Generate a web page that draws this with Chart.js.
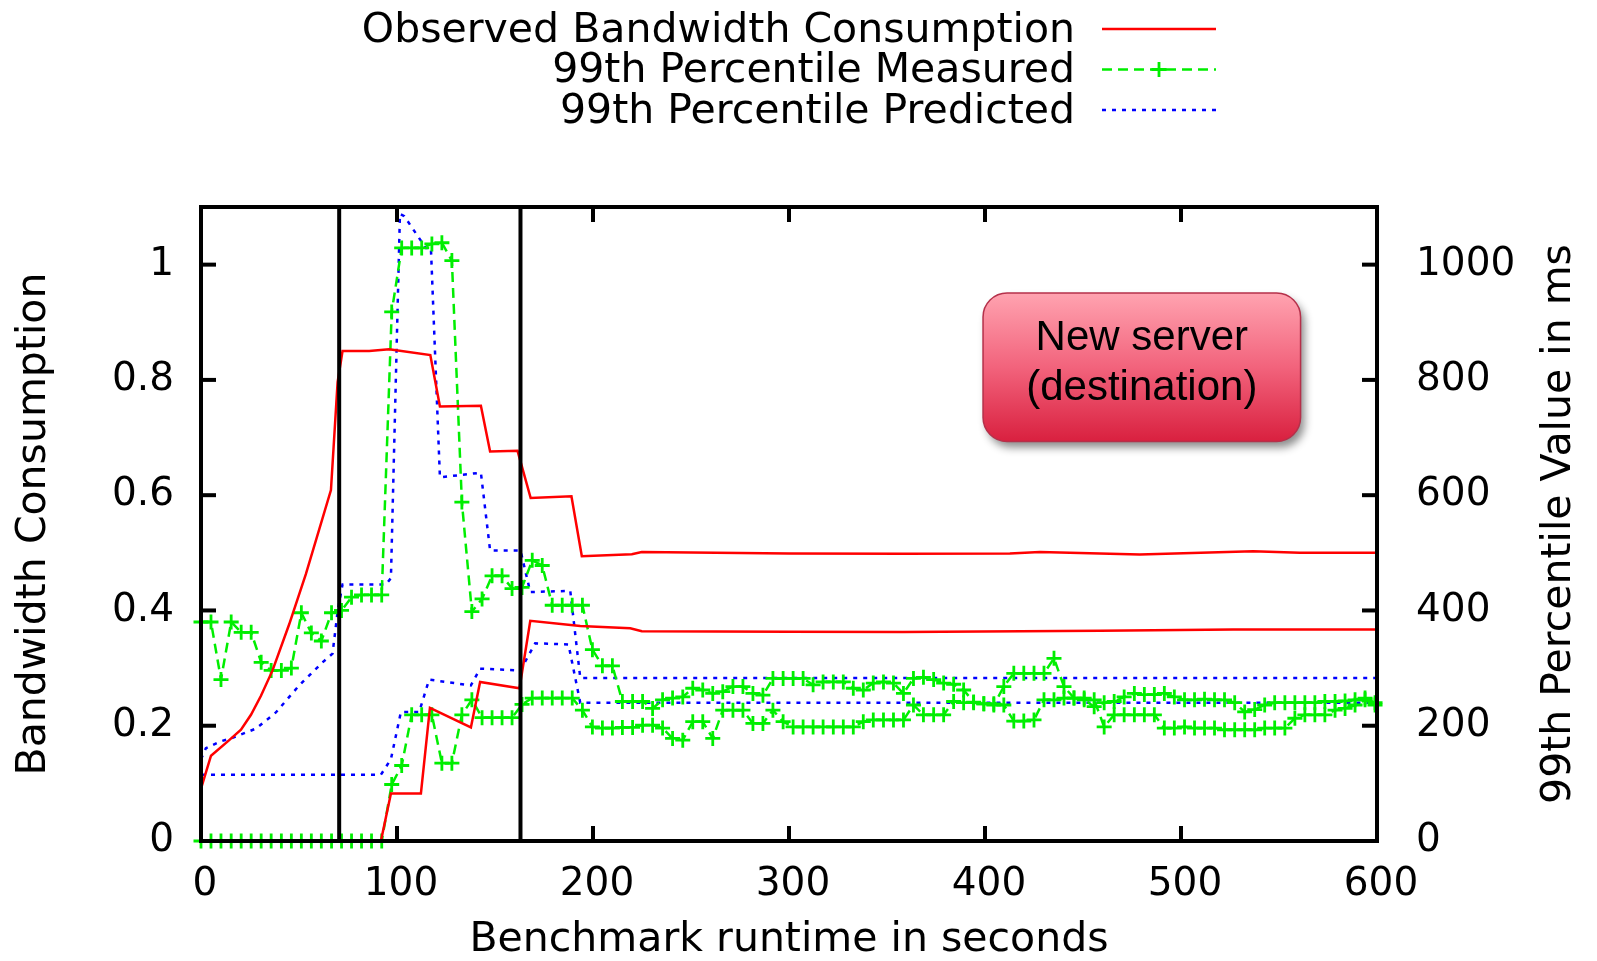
<!DOCTYPE html>
<html>
<head>
<meta charset="utf-8">
<title>Bandwidth consumption during migration</title>
<script src="https://cdn.jsdelivr.net/npm/chart.js@4.4.1/dist/chart.umd.min.js"></script>
<style>
  html, body { margin: 0; padding: 0; background: #fff; }
</style>
</head>
<body>
<canvas id="myChart" width="1597" height="961"></canvas>
<script>
// series names (legend order)
const seriesNames = ['Observed Bandwidth Consumption', '99th Percentile Measured', '99th Percentile Predicted']

// tick labels
const xTicks = ['0', '100', '200', '300', '400', '500', '600']
const leftTicks = ['0', '0.2', '0.4', '0.6', '0.8', '1']
const rightTicks = ['0', '200', '400', '600', '800', '1000']

// migration phase boundaries (seconds)
const phaseMarks = [70.5, 163]

// observed bandwidth - source server (fraction of link)
const srcBwTime = [0, 5.1, 14.4, 20.4, 25.5, 30.6, 36.5, 45, 53.5, 66.3, 69.7, 72.2, 85.8, 96, 117, 121.9, 142.8, 147.5, 161.5, 168.2, 189, 194.3, 219.8, 224.9, 300, 358, 412.7, 428, 479, 536.8, 560.6, 600]
const srcBw = [0.091, 0.148, 0.175, 0.193, 0.219, 0.252, 0.296, 0.376, 0.463, 0.609, 0.796, 0.850, 0.850, 0.853, 0.843, 0.754, 0.755, 0.676, 0.677, 0.595, 0.598, 0.494, 0.4975, 0.5015, 0.499, 0.4985, 0.4987, 0.5015, 0.497, 0.5026, 0.500, 0.500]

// observed bandwidth - new server (destination)
const dstBwTime = [91.8, 96.9, 112.2, 116.8, 137.7, 142.4, 162.5, 168, 193.5, 219, 224.9, 300, 358, 458.7, 526.6, 600]
const dstBw = [0, 0.0825, 0.0825, 0.231, 0.197, 0.276, 0.265, 0.382, 0.373, 0.369, 0.364, 0.363, 0.3625, 0.3647, 0.367, 0.367]

// sample times of the measured 99th percentile
const sampleTime = [0, 5.1, 10.2, 15.4, 20.5, 25.6, 30.7, 35.8, 41, 46.1,
    51.2, 56.3, 61.4, 66.6, 71.7, 76.8, 81.9, 87, 92.2, 97.3,
    102.4, 107.5, 112.6, 117.8, 122.9, 128, 133.1, 138.2, 143.4, 148.5,
    153.6, 158.7, 163.8, 169, 174.1, 179.2, 184.3, 189.4, 194.6, 199.7,
    204.8, 209.9, 215, 220.2, 225.3, 230.4, 235.5, 240.6, 245.8, 250.9,
    256, 261.1, 266.2, 271.4, 276.5, 281.6, 286.7, 291.8, 297, 302.1,
    307.2, 312.3, 317.4, 322.6, 327.7, 332.8, 337.9, 343, 348.2, 353.3,
    358.4, 363.5, 368.6, 373.8, 378.9, 384, 389.1, 394.2, 399.4, 404.5,
    409.6, 414.7, 419.8, 425, 430.1, 435.2, 440.3, 445.4, 450.6, 455.7,
    460.8, 465.9, 471, 476.2, 481.3, 486.4, 491.5, 496.6, 501.8, 506.9,
    512, 517.1, 522.2, 527.4, 532.5, 537.6, 542.7, 547.8, 553, 558.1,
    563.2, 568.3, 573.4, 578.6, 583.7, 588.8, 593.9, 599]

// measured 99th percentile (ms) - source server
const srcMeasured = [380, 380, 280, 380, 362, 362, 310, 296, 296, 300,
    396, 361, 347, 396, 400, 423, 427, 427, 427, 918,
    1029, 1029, 1029, 1036, 1038, 1007, 588, 398, 420, 460,
    460, 438, 440, 487, 478, 409, 409, 409, 409, 332,
    304, 304, 242, 242, 242, 230, 245, 248, 250, 265,
    262, 256, 259, 268, 268, 256, 253, 282, 282, 282,
    282, 271, 276, 276, 276, 265, 262, 274, 276, 274,
    256, 282, 284, 280, 274, 272, 262, 241, 238, 236,
    268, 291, 291, 291, 291, 317, 268, 248, 248, 245,
    198, 219, 219, 219, 219, 219, 196, 196, 198, 196,
    196, 196, 193, 193, 193, 193, 196, 196, 196, 213,
    219, 219, 219, 227, 230, 236, 245, 236]

// measured 99th percentile (ms) - new server
const dstMeasured = [0, 0, 0, 0, 0, 0, 0, 0, 0, 0,
    0, 0, 0, 0, 0, 0, 0, 0, 0, 98,
    131, 219, 219, 219, 135, 135, 219, 245, 214, 214,
    214, 214, 237, 248, 248, 248, 248, 248, 227, 198,
    196, 196, 197, 197, 201, 201, 196, 178, 175, 207,
    207, 178, 227, 227, 227, 204, 204, 227, 207, 198,
    198, 198, 198, 198, 198, 198, 207, 210, 210, 210,
    210, 236, 219, 219, 219, 242, 240, 240, 238, 238,
    236, 208, 208, 210, 245, 245, 248, 248, 245, 233,
    240, 242, 250, 256, 254, 254, 256, 250, 245, 245,
    246, 245, 245, 240, 224, 228, 236, 240, 240, 240,
    240, 240, 242, 242, 243, 245, 248, 240]

// predicted 99th percentile (ms)
const srcPredTime = [0, 2.5, 9.3, 16.1, 28, 38.2, 50.1, 62, 67.1, 69.7, 72.2, 94.3, 96.9, 101.5, 103.7, 114.7, 117.3, 121.9, 142.8, 147.5, 163, 168, 188.4, 193.5, 600]
const srcPred = [142, 161, 172, 179, 195, 223, 270, 310, 325, 398, 445, 445, 456, 1088, 1084, 1029, 1029, 631, 639, 504, 504, 432, 434, 283, 283]
const dstPredTime = [0, 91.8, 96.9, 102, 111.3, 116.4, 137.7, 142.4, 162.9, 170.5, 187.5, 193.5, 600]
const dstPred = [115, 115, 142, 224, 224, 280, 270, 299, 296, 343, 341, 240, 240]

// annotation text
const boxLines = ['New server', '(destination)']

const pts = (t, v) => t.map((x, i) => ({ x: x, y: v[i] }))

const tickFont = { family: 'DejaVu Sans', size: 39 }
const titleFont = { family: 'DejaVu Sans', size: 41, lineHeight: 1 }

function redLine(label, data, inLegend) {
    return { label, data, yAxisID: 'y', borderColor: '#ff0000', borderWidth: 2.5, pointRadius: 0, inLegend, clip: false }
}
function greenLine(label, data, inLegend) {
    return { label, data, yAxisID: 'y2', borderColor: '#00ee00', borderWidth: 2.5, borderDash: [10, 6],
        pointStyle: 'cross', pointRadius: 7.5, pointBorderWidth: 2.8, pointBorderColor: '#00ee00', inLegend, clip: false }
}
function blueLine(label, data, inLegend) {
    return { label, data, yAxisID: 'y2', borderColor: '#0000ff', borderWidth: 2.5, borderDash: [4, 6], pointRadius: 0, inLegend, clip: false }
}

// frame, inward ticks, phase lines, note box, legend, right title
const decorations = {
    id: 'decorations',
    afterDatasetsDraw(chart) {
        const { ctx, chartArea: a, scales } = chart
        ctx.save()
        ctx.strokeStyle = '#000'
        ctx.lineWidth = 4
        const seg = (x1, y1, x2, y2) => { ctx.beginPath(); ctx.moveTo(x1, y1); ctx.lineTo(x2, y2); ctx.stroke() }
        phaseMarks.forEach(t => {
            const px = scales.x.getPixelForValue(t)
            seg(px, a.top, px, a.bottom)
        })
        const tl = 15
        scales.x.ticks.forEach(t => {
            const px = scales.x.getPixelForValue(t.value)
            seg(px, a.bottom, px, a.bottom - tl)
            seg(px, a.top, px, a.top + tl)
        })
        scales.y.ticks.forEach(t => {
            const py = scales.y.getPixelForValue(t.value)
            seg(a.left, py, a.left + tl, py)
        })
        scales.y2.ticks.forEach(t => {
            const py = scales.y2.getPixelForValue(t.value)
            seg(a.right, py, a.right - tl, py)
        })
        ctx.strokeRect(a.left, a.top, a.width, a.height)

        // note box, placed in data coordinates
        const bx1 = scales.x.getPixelForValue(399), bx2 = scales.x.getPixelForValue(561)
        const by1 = scales.y.getPixelForValue(0.951), by2 = scales.y.getPixelForValue(0.693)
        const grad = ctx.createLinearGradient(0, by1, 0, by2)
        grad.addColorStop(0, '#ffa3b0')
        grad.addColorStop(0.5, '#f2637c')
        grad.addColorStop(1, '#d9203f')
        ctx.shadowColor = 'rgba(0,0,0,0.45)'
        ctx.shadowBlur = 9
        ctx.shadowOffsetX = 4
        ctx.shadowOffsetY = 6
        ctx.beginPath()
        ctx.roundRect(bx1, by1, bx2 - bx1, by2 - by1, 24)
        ctx.fillStyle = grad
        ctx.fill()
        ctx.shadowColor = 'transparent'
        ctx.lineWidth = 1.5
        ctx.strokeStyle = '#b5304a'
        ctx.stroke()
        ctx.fillStyle = '#000'
        ctx.font = '42px "Liberation Sans", Arial, sans-serif'
        ctx.textAlign = 'center'
        ctx.textBaseline = 'middle'
        const cx = (bx1 + bx2) / 2
        ctx.fillText(boxLines[0], cx, by1 + 46)
        ctx.fillText(boxLines[1], cx, by1 + 96)
        ctx.restore()
    },
    afterDraw(chart) {
        const { ctx, chartArea: a } = chart
        ctx.save()
        // legend, text right-aligned with the line sample to its right
        ctx.font = '41px "DejaVu Sans"'
        ctx.textAlign = 'right'
        ctx.textBaseline = 'middle'
        const rows = chart.data.datasets.filter(d => d.inLegend)
        rows.forEach((d, i) => {
            const y = 29 + i * 40.5
            ctx.fillStyle = '#000'
            ctx.fillText(d.label, 1075, y + 2)
            ctx.strokeStyle = d.borderColor
            ctx.lineWidth = 2.5
            ctx.setLineDash(d.borderDash || [])
            ctx.beginPath(); ctx.moveTo(1102, y); ctx.lineTo(1216, y); ctx.stroke()
            ctx.setLineDash([])
            if (d.pointStyle === 'cross') {
                ctx.lineWidth = 2.8
                ctx.beginPath()
                ctx.moveTo(1159 - 7.5, y); ctx.lineTo(1159 + 7.5, y)
                ctx.moveTo(1159, y - 7.5); ctx.lineTo(1159, y + 7.5)
                ctx.stroke()
            }
        })
        // right axis title reads bottom to top
        ctx.translate(1559, (a.top + a.bottom) / 2)
        ctx.rotate(-Math.PI / 2)
        ctx.textAlign = 'center'
        ctx.fillStyle = '#000'
        ctx.fillText('99th Percentile Value in ms', 0, 0)
        ctx.restore()
    }
}

const myChart = document.querySelector('#myChart').getContext('2d')
const chart = new Chart(myChart, {
    type: 'line',
    data: {
        datasets: [
            redLine(seriesNames[0], pts(srcBwTime, srcBw), true),
            redLine(seriesNames[0], pts(dstBwTime, dstBw), false),
            greenLine(seriesNames[1], pts(sampleTime, srcMeasured), true),
            greenLine(seriesNames[1], pts(sampleTime, dstMeasured), false),
            blueLine(seriesNames[2], pts(srcPredTime, srcPred), true),
            blueLine(seriesNames[2], pts(dstPredTime, dstPred), false),
        ]
    },
    options: {
        responsive: false,
        animation: false,
        layout: { padding: { top: 207 } },
        elements: { line: { tension: 0 } },
        plugins: { legend: { display: false }, tooltip: { enabled: false } },
        scales: {
            x: {
                type: 'linear', min: 0, max: 600,
                grid: { display: false, drawTicks: false }, border: { display: false },
                ticks: { stepSize: 100, includeBounds: false, maxRotation: 0, color: '#000', font: tickFont, padding: 20,
                    labelOffset: 4, callback: (v, i) => xTicks[i] },
                title: { display: true, text: 'Benchmark runtime in seconds', color: '#000', font: titleFont, padding: { top: 0, bottom: 0 } },
                afterFit: s => { s.height = 120 }
            },
            y: {
                position: 'left', min: 0, max: 1.1,
                grid: { display: false, drawTicks: false }, border: { display: false },
                ticks: { stepSize: 0.2, includeBounds: false, color: '#000', font: tickFont, padding: 27,
                    callback: (v, i) => leftTicks[i] },
                title: { display: true, text: 'Bandwidth Consumption', color: '#000', font: titleFont, padding: { top: 14, bottom: 0 } },
                afterFit: s => { s.width = 201 }
            },
            y2: {
                position: 'right', min: 0, max: 1100,
                grid: { display: false, drawTicks: false }, border: { display: false },
                ticks: { stepSize: 200, includeBounds: false, color: '#000', font: tickFont, padding: 39,
                    callback: (v, i) => rightTicks[i] },
                afterFit: s => { s.width = 220 }
            }
        }
    },
    plugins: [decorations]
})
</script>
</body>
</html>
